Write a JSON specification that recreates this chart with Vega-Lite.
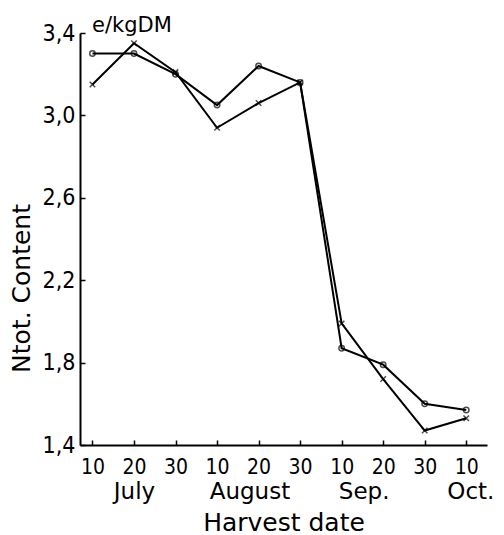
{
  "$schema": "https://vega.github.io/schema/vega-lite/v6.json",
  "width": 407,
  "height": 412,
  "autosize": "none",
  "padding": {"left": 80, "top": 33, "right": 17, "bottom": 90},
  "background": "white",
  "title": {"text": "e/kgDM", "anchor": "start", "frame": "group", "dx": 12, "offset": -14, "font": "DejaVu Sans", "fontSize": 21, "fontWeight": "normal", "color": "black"},
  "config": {
    "view": {"stroke": null},
    "axis": {"grid": false, "domainColor": "black", "tickColor": "black", "labelColor": "black", "titleColor": "black", "labelFont": "DejaVu Sans Condensed, DejaVu Sans", "titleFont": "DejaVu Sans", "labelFontSize": 21, "titleFontSize": 25, "titleFontWeight": "normal", "domainWidth": 2, "tickWidth": 1.5, "labelOverlap": false, "labelFlush": false, "labelBound": false}
  },
  "data": {"values": [
    {"idx": 0, "date": "10 July", "series": "o", "v": 3.30},
    {"idx": 1, "date": "20 July", "series": "o", "v": 3.30},
    {"idx": 2, "date": "30 July", "series": "o", "v": 3.20},
    {"idx": 3, "date": "10 August", "series": "o", "v": 3.05},
    {"idx": 4, "date": "20 August", "series": "o", "v": 3.24},
    {"idx": 5, "date": "30 August", "series": "o", "v": 3.16},
    {"idx": 6, "date": "10 Sep.", "series": "o", "v": 1.87},
    {"idx": 7, "date": "20 Sep.", "series": "o", "v": 1.79},
    {"idx": 8, "date": "30 Sep.", "series": "o", "v": 1.60},
    {"idx": 9, "date": "10 Oct.", "series": "o", "v": 1.57},
    {"idx": 0, "date": "10 July", "series": "x", "v": 3.15},
    {"idx": 1, "date": "20 July", "series": "x", "v": 3.35},
    {"idx": 2, "date": "30 July", "series": "x", "v": 3.21},
    {"idx": 3, "date": "10 August", "series": "x", "v": 2.94},
    {"idx": 4, "date": "20 August", "series": "x", "v": 3.06},
    {"idx": 5, "date": "30 August", "series": "x", "v": 3.16},
    {"idx": 6, "date": "10 Sep.", "series": "x", "v": 1.99},
    {"idx": 7, "date": "20 Sep.", "series": "x", "v": 1.72},
    {"idx": 8, "date": "30 Sep.", "series": "x", "v": 1.47},
    {"idx": 9, "date": "10 Oct.", "series": "x", "v": 1.53}
  ]},
  "encoding": {
    "y": {"field": "v", "type": "quantitative", "scale": {"domain": [1.4, 3.4], "nice": false, "zero": false},
      "axis": {"title": "Ntot. Content", "values": [1.4, 1.8, 2.2, 2.6, 3.0, 3.4], "tickSize": -5, "labelPadding": 10, "labelFontSize": 23, "titleX": -46, "titleY": 255,
        "labelExpr": "replace(format(datum.value, '.1f'), '.', ',')"}}
  },
  "layer": [
    {"mark": {"type": "line", "color": "black", "strokeWidth": 2},
      "encoding": {"detail": {"field": "series"},
        "x": {"field": "idx", "type": "quantitative", "scale": {"domain": [-0.3, 9.5], "nice": false, "zero": false},
          "axis": {"title": null, "orient": "bottom", "values": [0,1,2,3,4,5,6,7,8,9], "tickSize": -5, "labelPadding": 16,
            "labelExpr": "['10','20','30','10','20','30','10','20','30','10'][datum.value]"}}}},
    {"mark": {"type": "point", "filled": false, "color": "black", "strokeWidth": 1.5},
      "encoding": {
        "x": {"field": "idx", "type": "quantitative", "scale": {"domain": [-0.3, 9.5], "nice": false, "zero": false},
          "axis": {"title": "Harvest date", "orient": "bottom", "values": [1, 3.78, 6.53, 9.1], "domain": false, "ticks": false, "labelPadding": 35, "titlePadding": 7, "labelFont": "DejaVu Sans", "labelFontSize": 23,
            "labelExpr": "datum.value < 2 ? 'July' : datum.value < 5 ? 'August' : datum.value < 8 ? 'Sep.' : 'Oct.'"}},
        "shape": {"field": "series", "type": "nominal", "scale": {"domain": ["o", "x"], "range": ["circle", "M-1,-1L1,1M-1,1L1,-1"]}, "legend": null},
        "size": {"value": 30}}}
  ],
  "resolve": {"scale": {"x": "independent"}}
}
